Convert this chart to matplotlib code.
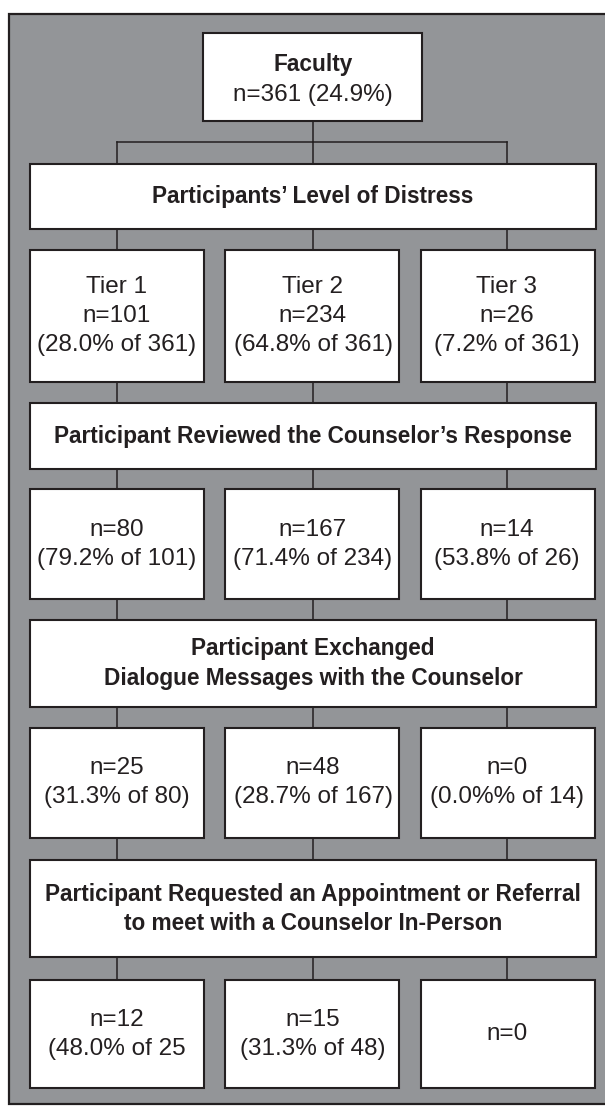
import matplotlib.pyplot as plt
from matplotlib.patches import Rectangle

plt.rcParams['font.family'] = ['Liberation Sans', 'DejaVu Sans']

# --- data (text of the flow chart) ---
root_title = "Faculty"
root_line = "n=361 (24.9%)"

stage_titles = [
    ["Participants\u2019 Level of Distress"],
    ["Participant Reviewed the Counselor\u2019s Response"],
    ["Participant Exchanged", "Dialogue Messages with the Counselor"],
    ["Participant Requested an Appointment or Referral",
     "to meet with a Counselor In-Person"],
]

tier_names = ["Tier 1", "Tier 2", "Tier 3"]
tier_counts = ["n=101", "n=234", "n=26"]
tier_shares = ["(28.0% of 361)", "(64.8% of 361)", "(7.2% of 361)"]

reviewed_counts = ["n=80", "n=167", "n=14"]
reviewed_shares = ["(79.2% of 101)", "(71.4% of 234)", "(53.8% of 26)"]

dialogue_counts = ["n=25", "n=48", "n=0"]
dialogue_shares = ["(31.3% of 80)", "(28.7% of 167)", "(0.0%% of 14)"]

referral_counts = ["n=12", "n=15", "n=0"]
referral_shares = ["(48.0% of 25", "(31.3% of 48)", ""]

# --- layout in pixels ---
W, H = 605, 1106
grey = "#939598"
ink = "#231f20"
col_x = [(30, 204), (225, 399), (421, 595)]
col_mid = [117, 313, 507]
wide_x = (30, 596)
root_x = (203, 422)
root_y = (33, 121)
stage_y = [(164, 229), (403, 469), (620, 707), (860, 957)]
row_y = [(250, 382), (489, 599), (728, 838), (980, 1088)]
line_gap = 29
body_size = 17.5
bold_size = 16.3

fig = plt.figure(figsize=(W / 100, H / 100), dpi=100)
ax = fig.add_axes([0, 0, 1, 1])
ax.set_xlim(0, W)
ax.set_ylim(H, 0)
ax.axis("off")

# grey panel
ax.add_patch(Rectangle((9, 14), W + 10, 1090, facecolor=grey,
                       edgecolor=ink, linewidth=1.6, zorder=0))


def box(x0, x1, y0, y1):
    ax.add_patch(Rectangle((x0, y0), x1 - x0, y1 - y0, facecolor="white",
                           edgecolor=ink, linewidth=1.5, zorder=2))


def lines(xc, y0, y1, texts, bold=False):
    texts = [t for t in texts if t]
    yc = (y0 + y1) / 2
    start = yc - line_gap * (len(texts) - 1) / 2
    for i, t in enumerate(texts):
        ax.text(xc, start + i * line_gap, t, ha="center", va="center",
                fontsize=bold_size if bold else body_size,
                fontweight="bold" if bold else "normal", color=ink, zorder=3)


def vline(x, y0, y1):
    ax.plot([x, x], [y0, y1], color=ink, linewidth=1.1, zorder=1)


# root box and its fork
box(root_x[0], root_x[1], root_y[0], root_y[1])
ax.text(313, 65, root_title, ha="center", va="center", fontsize=bold_size,
        fontweight="bold", color=ink, zorder=3)
ax.text(313, 95, root_line, ha="center", va="center", fontsize=body_size,
        color=ink, zorder=3)
fork_y = 142
vline(313, root_y[1], fork_y)
ax.plot([col_mid[0], col_mid[2]], [fork_y, fork_y], color=ink, linewidth=1.1, zorder=1)
for xm in col_mid:
    vline(xm, fork_y, stage_y[0][0])

rows = [
    [tier_names, tier_counts, tier_shares],
    [reviewed_counts, reviewed_shares],
    [dialogue_counts, dialogue_shares],
    [referral_counts, referral_shares],
]

for k in range(4):
    sy0, sy1 = stage_y[k]
    ry0, ry1 = row_y[k]
    box(wide_x[0], wide_x[1], sy0, sy1)
    lines(313, sy0, sy1, stage_titles[k], bold=True)
    for j in range(3):
        vline(col_mid[j], sy1, ry0)
        box(col_x[j][0], col_x[j][1], ry0, ry1)
        lines(col_mid[j], ry0, ry1, [r[j] for r in rows[k]])
        if k < 3:
            vline(col_mid[j], ry1, stage_y[k + 1][0])

fig.savefig("out.png", dpi=100)
